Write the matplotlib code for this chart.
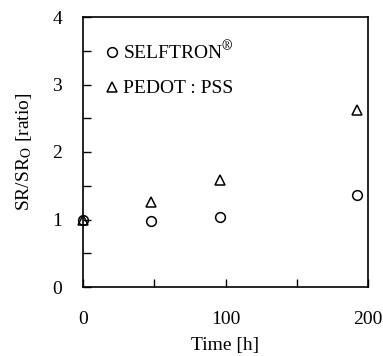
import matplotlib
matplotlib.use('Agg')
import matplotlib.pyplot as plt
from matplotlib.ticker import MultipleLocator

plt.rcParams['font.family'] = ['Liberation Serif', 'DejaVu Serif']
plt.rcParams['mathtext.fontset'] = 'stix'

time_h = [0, 48, 96, 192]
selftron = [1.0, 0.98, 1.03, 1.36]
pedot = [1.0, 1.26, 1.59, 2.62]

fig = plt.figure(figsize=(3.83, 3.56), dpi=100)
ax = fig.add_axes([83 / 383, 1 - 287 / 356, 285 / 383, 270 / 356])

ax.plot(time_h, selftron, linestyle='none', marker='o', ms=7, mfc='none',
        mec='black', mew=1.1, clip_on=False, label=r'SELFTRON$^{\circledR}$')
ax.plot(time_h, pedot, linestyle='none', marker='^', ms=7, mfc='none',
        mec='black', mew=1.1, clip_on=False, label='PEDOT : PSS')

ax.set_xlim(0, 200)
ax.set_ylim(0, 4)
ax.xaxis.set_major_locator(MultipleLocator(100))
ax.xaxis.set_minor_locator(MultipleLocator(50))
ax.yaxis.set_major_locator(MultipleLocator(1))
ax.yaxis.set_minor_locator(MultipleLocator(0.5))
ax.tick_params(which='both', direction='in', top=False, right=False,
               labelsize=14, width=1)
ax.tick_params(which='major', length=6)
ax.tick_params(axis='x', which='major', pad=17)
ax.tick_params(axis='y', which='major', pad=15)
ax.tick_params(which='minor', length=6)
for s in ax.spines.values():
    s.set_linewidth(1.2)

ax.set_xlabel('Time [h]', fontsize=14, labelpad=7)
ax.set_ylabel('SR/SR$_\\mathrm{O}$ [ratio]', fontsize=14, labelpad=13)

ax.legend(loc='upper left', bbox_to_anchor=(0.035, 0.95), frameon=False,
          fontsize=14, handletextpad=0.05, handlelength=1.0, labelspacing=0.85,
          borderpad=0)

fig.savefig('out.png', dpi=100)
